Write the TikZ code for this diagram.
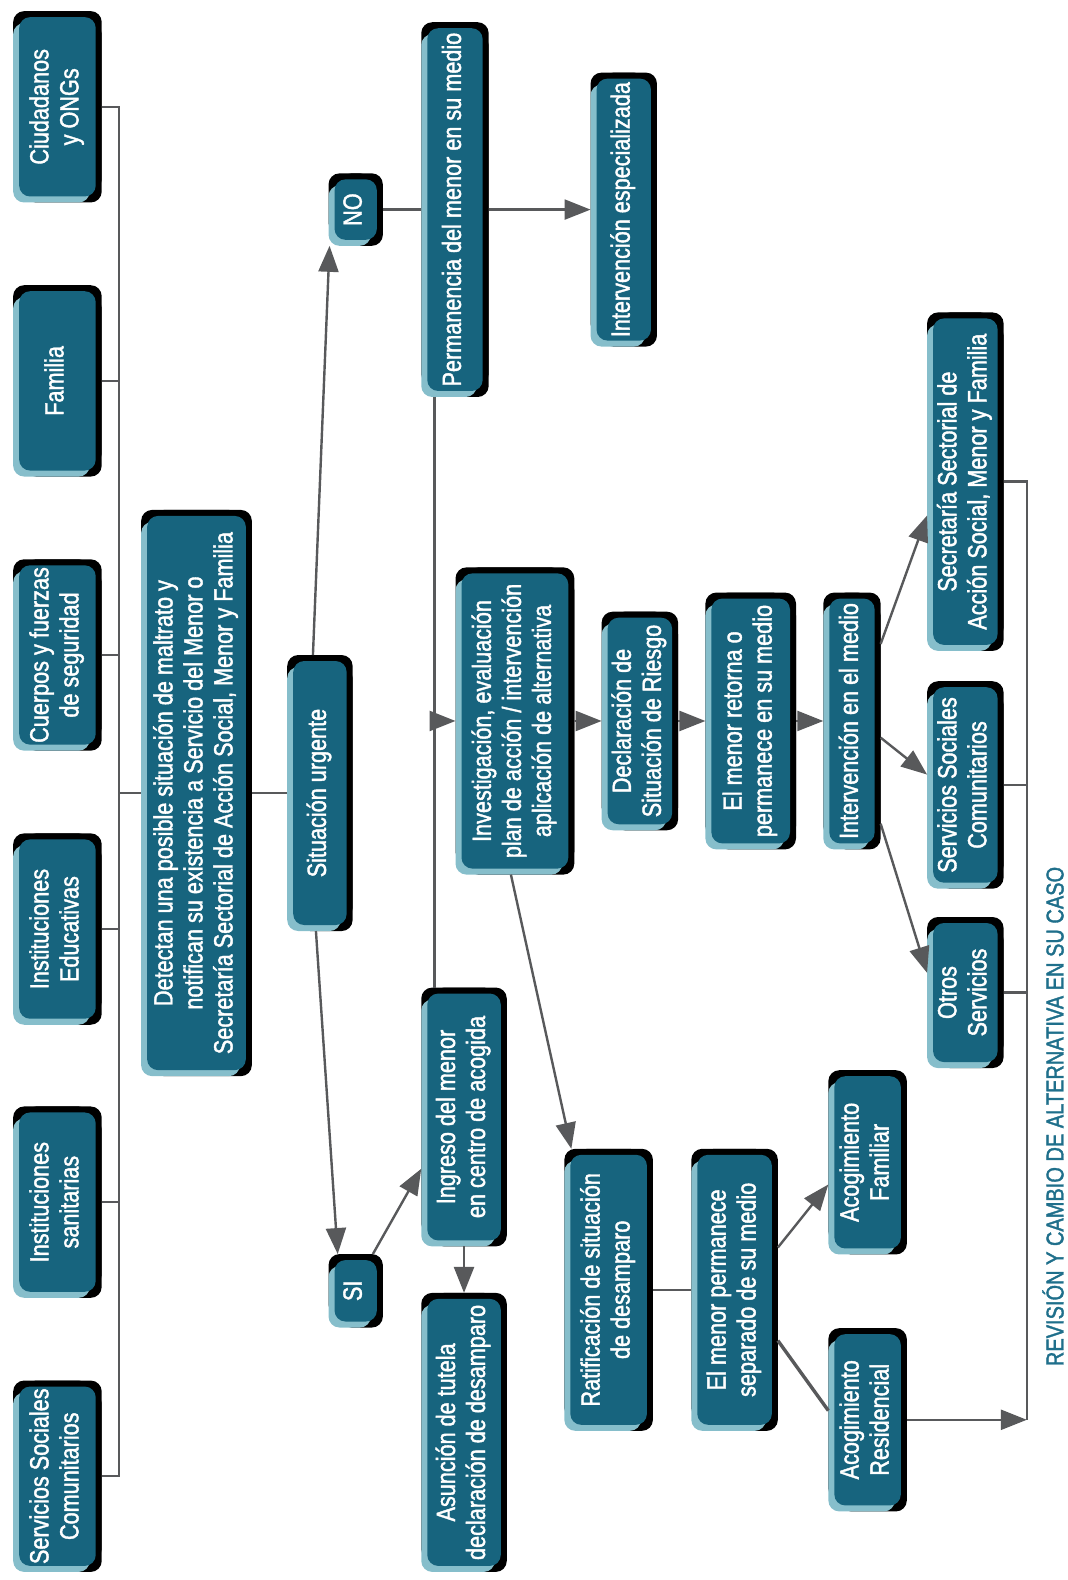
\documentclass[tikz,border=0pt]{standalone}
\usepackage{fontspec}
\setmainfont{Liberation Sans}[FakeStretch=0.82,FakeBold=1.5]
\usetikzlibrary{arrows.meta,shadows,calc}
\definecolor{boxteal}{HTML}{17647E}
\definecolor{boxlight}{HTML}{86BECB}
\definecolor{linegray}{HTML}{58595B}
\definecolor{revteal}{HTML}{1F6F8B}
\newcommand\vt[1]{\rotatebox{90}{\begin{tabular}{@{}c@{}}#1\end{tabular}}}
\begin{document}
\begin{tikzpicture}[x=0.50378pt,y=-0.50378pt,
  box/.style={rounded corners=5.5pt, fill=boxteal, text=white, inner sep=0pt, outer sep=3pt,
    font=\fontsize{13.2pt}{15pt}\selectfont,
    general shadow={fill=black, shadow xshift=-3pt, shadow yshift=3pt},
    general shadow={fill=black, shadow xshift=3pt, shadow yshift=-3pt},
    general shadow={fill=boxlight, shadow xshift=-3pt, shadow yshift=-3pt},
    general shadow={fill=black, shadow xshift=3pt, shadow yshift=3pt}},
  sz/.style 2 args={minimum width={(#1-12)*0.50378pt}, minimum height={(#2-12)*0.50378pt}},
  conn/.style={draw=linegray, line width=1.2pt},
  arr/.style={conn, -{Triangle[length=13pt,width=10pt]}},
  rev/.style={text=revteal, inner sep=0pt, font=\fontsize{12.2pt}{14pt}\selectfont}]
\useasboundingbox (0,0) rectangle (1059,1568);

% left column
\node[box,sz={88}{190}] (ciud) at (57,106) {\vt{Ciudadanos\\y ONGs}};
\node[box,sz={88}{190}] (fam) at (57,378) {\vt{Familia}};
\node[box,sz={88}{190}] (cuer) at (57,650) {\vt{Cuerpos y fuerzas\\de seguridad}};
\node[box,sz={88}{190}] (edu) at (57,922) {\vt{Instituciones\\Educativas}};
\node[box,sz={88}{190}] (san) at (57,1193) {\vt{Instituciones\\sanitarias}};
\node[box,sz={88}{190}] (ssc) at (57,1465) {\vt{Servicios Sociales\\Comunitarios}};

\node[box,sz={110}{562}] (main) at (195,787) {\vt{Detectan una posible situación de maltrato y\\notifican su existencia a Servicio del Menor o\\Secretaría Sectorial de Acción Social, Menor y Familia}};
\node[box,sz={65}{274}] (urg) at (317.5,787) {\vt{Situación urgente}};
\node[box,sz={54}{72}] (no) at (353,208) {\vt{NO}};
\node[box,sz={54}{73}] (si) at (353,1281) {\vt{SI}};
\node[box,sz={67}{372}] (perm) at (451.5,208) {\vt{Permanencia del menor en su medio}};
\node[box,sz={66}{272}] (esp) at (619,208) {\vt{Intervención especializada}};
\node[box,sz={118}{305}] (inv) at (511,715.5) {\vt{Investigación, evaluación\\plan de acción / intervención\\aplicación de alternativa}};
\node[box,sz={76}{217}] (dec) at (635,715.5) {\vt{Declaración de\\Situación de Riesgo}};
\node[box,sz={90}{255}] (ret) at (745,715.5) {\vt{El menor retorna o\\permanece en su medio}};
\node[box,sz={57}{255}] (int) at (845.5,715.5) {\vt{Intervención en el medio}};
\node[box,sz={76}{336}] (sec) at (958,478) {\vt{Secretaría Sectorial de\\Acción Social, Menor y Familia}};
\node[box,sz={76}{206}] (ssc2) at (958,779) {\vt{Servicios Sociales\\Comunitarios}};
\node[box,sz={76}{150}] (otr) at (958,985) {\vt{Otros\\Servicios}};
\node[box,sz={85}{257}] (ing) at (460.5,1108.5) {\vt{Ingreso del menor\\en centro de acogida}};
\node[box,sz={85}{277}] (asun) at (460.5,1421.5) {\vt{Asunción de tutela\\declaración de desamparo}};
\node[box,sz={88}{280}] (rat) at (604,1280) {\vt{Ratificación de situación\\de desamparo}};
\node[box,sz={86}{280}] (sep) at (729,1280) {\vt{El menor permanece\\separado de su medio}};
\node[box,sz={78}{183}] (afam) at (861,1153.5) {\vt{Acogimiento\\Familiar}};
\node[box,sz={78}{182}] (ares) at (861,1409) {\vt{Acogimiento\\Residencial}};
\node[rev] (rev) at (1045,1108) {\rotatebox{90}{REVISIÓN Y CAMBIO DE ALTERNATIVA EN SU CASO}};

% left bus
\coordinate (lb) at (118,787);
\draw[conn] (ciud.east) -- (ciud.east -| lb) -- (ssc.east -| lb) -- (ssc.east);
\draw[conn] (fam.east) -- (fam.east -| lb);
\draw[conn] (cuer.east) -- (cuer.east -| lb);
\draw[conn] (edu.east) -- (edu.east -| lb);
\draw[conn] (san.east) -- (san.east -| lb);
\draw[conn] (lb) -- (main.west);
\draw[conn] (main.east) -- (urg.west);
\draw[arr] ([xshift=-3.5pt]urg.north) -- ([xshift=0.5pt]no.south west);
\draw[arr] ([xshift=-2pt]urg.south) -- ([xshift=-9pt]si.north);
\draw[conn] (no.east) -- (perm.west);
\draw[arr] (perm.east) -- (esp.west);
\coordinate (mb) at (431,715.5);
\draw[conn] (perm.south -| mb) -- (ing.north -| mb);
\draw[arr] (mb) -- (inv.west);
\draw[arr] (inv.east) -- (dec.west);
\draw[arr] (dec.east) -- (ret.west);
\draw[arr] (ret.east) -- (int.west);
\draw[arr] ($(int.north east)!0.2!(int.south east)$) -- ($(sec.north west)!0.6!(sec.south west)$);
\draw[arr] ($(int.north east)!0.565!(int.south east)$) -- ($(ssc2.north west)!0.45!(ssc2.south west)$);
\draw[arr] ($(int.north east)!0.9!(int.south east)$) -- ($(otr.north west)!0.37!(otr.south west)$);
% right bus
\coordinate (rb) at (1019,1409);
\draw[conn] (sec.east) -- (sec.east -| rb) -- (rb);
\draw[conn] (ssc2.east) -- (ssc2.east -| rb);
\draw[conn] (otr.east) -- (otr.east -| rb);
\draw[arr] (ares.east) -- (rb);
% lower part
\draw[arr] ([xshift=-5pt]si.north east) -- ($(ing.north west)!0.7!(ing.south west)$);
\draw[arr] (ing.south) -- (asun.north);
\draw[arr] ([xshift=-2pt]inv.south) -- ([xshift=3.5pt]rat.north west);
\draw[conn] (rat.east) -- (sep.west);
\draw[arr] ($(sep.north east)!0.35!(sep.south east)$) -- ($(afam.north west)!0.62!(afam.south west)$);
\draw[conn, line width=1.7pt] ($(sep.north east)!0.68!(sep.south east)$) -- ($(ares.north west)!0.45!(ares.south west)$);
\end{tikzpicture}
\end{document}
